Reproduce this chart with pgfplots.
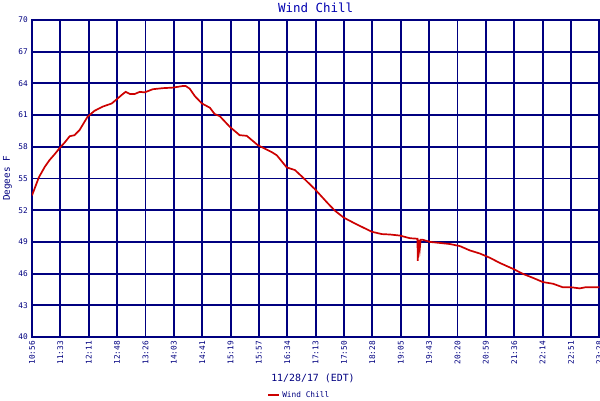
\documentclass[border=0pt]{standalone}
\usepackage{fontspec}
\setmainfont{DejaVu Sans Mono}
\usepackage{pgfplots}
\pgfplotsset{compat=1.18}
\definecolor{gridnavy}{HTML}{000080}
\definecolor{chillred}{HTML}{CC0000}
\definecolor{titleblue}{HTML}{0000B0}

\begin{document}
\begin{tikzpicture}[x=1pt,y=1pt]
\begin{axis}[
  at={(32pt,63pt)}, anchor=south west,
  scale only axis, width=567.3pt, height=317pt,
  xmin=0, xmax=20, ymin=40, ymax=70,
  xtick={0,1,...,20},
  xticklabels={10:56,11:33,12:11,12:48,13:26,14:03,14:41,15:19,15:57,16:34,17:13,17:50,18:28,19:05,19:43,20:20,20:59,21:36,22:14,22:51,23:28},
  ytick={40,43,...,70},
  grid=major,
  major grid style={gridnavy, line width=1.9pt},
  axis line style={gridnavy, line width=1.9pt},
  major tick length=0pt,
  tick label style={font=\fontsize{7.8}{8}\selectfont, text=gridnavy},
  x tick label style={rotate=90, anchor=east, inner sep=4pt},
  y tick label style={inner sep=4pt},
  /pgf/number format/assume math mode=true,
  every axis title shift=0pt,
  title={Wind Chill},
  title style={at={(axis description cs:0.5,1.025)}, anchor=base, font=\fontsize{12.5}{13}\selectfont, text=titleblue},
  xlabel={11/28/17 (EDT)},
  xlabel style={at={(axis description cs:0.4953,-0.1388)}, anchor=base, font=\fontsize{9.9}{10}\selectfont, text=gridnavy},
  ylabel={Degees F},
  ylabel style={at={(axis description cs:-0.0432,0.5)}, anchor=center, font=\fontsize{9.3}{10}\selectfont, text=gridnavy},
  legend style={at={(axis description cs:0.4707,-0.183)}, anchor=center, draw=none, fill=none, font=\fontsize{7.8}{8}\selectfont, text=gridnavy},
  legend image code/.code={\draw[#1, line width=2.5pt] (0pt,0pt) -- (11pt,0pt);},
]
\addplot[chillred, line width=1.7pt] coordinates {
(0,53.4) (0.1,54.1) (0.24,55.1) (0.45,56.1) (0.62,56.75) (0.8,57.3) (0.98,57.9)
(1.15,58.4) (1.33,59.0) (1.5,59.1) (1.68,59.6) (1.96,60.85) (2.2,61.4) (2.49,61.8)
(2.81,62.1) (2.99,62.5) (3.16,62.9) (3.3,63.2) (3.45,63.0) (3.62,63.0) (3.8,63.2)
(3.97,63.15) (4.26,63.45) (4.61,63.55) (4.96,63.6) (5.31,63.75) (5.42,63.75)
(5.56,63.5) (5.74,62.8) (5.99,62.1) (6.27,61.7) (6.44,61.1) (6.62,60.9) (6.97,59.9)
(7.32,59.1) (7.57,59.04) (7.96,58.16) (8.45,57.5) (8.63,57.2) (8.98,56.05)
(9.27,55.8) (9.51,55.2) (9.97,54.0) (10.43,52.65) (10.68,51.95) (10.99,51.3)
(11.38,50.75) (11.98,49.96) (12.33,49.74) (12.62,49.7) (12.97,49.6) (13.32,49.35)
(13.59,49.3) (13.6,47.2) (13.63,49.2) (13.67,48.3) (13.7,49.2) (13.78,49.2)
(14.03,49.0) (14.38,48.9) (14.73,48.8) (15.09,48.6) (15.43,48.2) (15.79,47.9)
(16.14,47.5) (16.5,47.0) (17.0,46.4) (17.31,45.97) (17.66,45.6) (18.01,45.2)
(18.37,45.04) (18.72,44.7) (19.03,44.7) (19.31,44.6) (19.5,44.7) (20,44.7)
};
\addlegendentry{Wind Chill}
\end{axis}
\pgfresetboundingbox
\path[use as bounding box] (0pt,0pt) rectangle (600pt,400pt);
\end{tikzpicture}
\end{document}
